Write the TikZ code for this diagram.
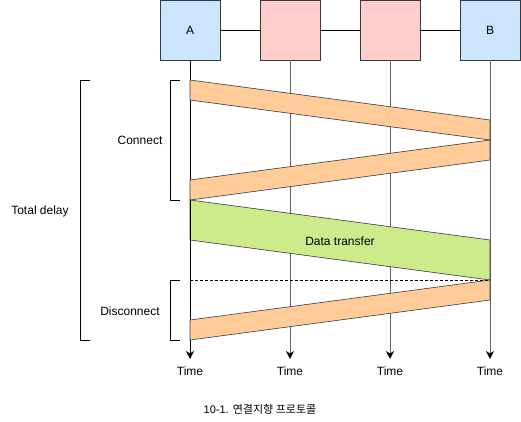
\documentclass[tikz,border=0pt]{standalone}
\usepackage{fontspec}
\setmainfont{Liberation Sans}
\newfontfamily\kofont{Noto Sans CJK KR}
\usetikzlibrary{arrows.meta}
\definecolor{strk}{HTML}{36393D}
\definecolor{bluef}{HTML}{CCE5FF}
\definecolor{redf}{HTML}{FFCCCC}
\definecolor{orangef}{HTML}{FFCC99}
\definecolor{greenf}{HTML}{CDEB8B}
\definecolor{tline}{HTML}{666666}
\tikzset{
  hostbox/.style={draw=strk, line width=0.8pt, minimum width=60pt, minimum height=60pt, inner sep=0pt, font=\fontsize{12}{14}\selectfont},
  endhost/.style={hostbox, fill=bluef},
  midhost/.style={hostbox, fill=redf},
  link/.style={draw=black, line width=0.8pt},
  timeline/.style={draw=tline, line width=1pt, -{Stealth[length=8pt,width=8pt,inset=2.5pt,color=black]}},
  timelineA/.style={timeline, draw=black},
  band/.style={draw=strk, line width=0.6pt},
  conband/.style={band, fill=orangef},
  databand/.style={band, fill=greenf},
  bracket/.style={draw=black, line width=0.8pt},
  lbl/.style={font=\fontsize{12}{14}\selectfont, inner sep=0pt},
}
\begin{document}
\begin{tikzpicture}[x=1pt,y=-1pt]
\useasboundingbox (0,0) rectangle (521,422);
% hosts
\node[endhost] (A) at (190,30) {A};
\node[midhost] (R1) at (290,30) {};
\node[midhost] (R2) at (390,30) {};
\node[endhost] (B) at (490,30) {B};
\draw[link] (A) -- (R1);
\draw[link] (R1) -- (R2);
\draw[link] (R2) -- (B);
% time axes
\coordinate (tA) at (190,359);
\coordinate (t1) at (290,359);
\coordinate (t2) at (390,359);
\coordinate (tB) at (490,359);
\draw[timelineA] (A.south) -- (tA);
\draw[timeline] (R1.south) -- (t1);
\draw[timeline] (R2.south) -- (t2);
\draw[timeline] (B.south) -- (tB);
\node[lbl] (timeA) at (190,371) {Time};
\node[lbl] (time1) at (290,371) {Time};
\node[lbl] (time2) at (390,371) {Time};
\node[lbl] (timeB) at (490,371) {Time};
% bands
\draw[conband] (190,80) -- (490,120) -- (490,140) -- (190,100) -- cycle;
\draw[conband] (190,180) -- (490,140) -- (490,160) -- (190,200) -- cycle;
\draw[databand] (190,200) -- (490,240) -- (490,280) -- (190,240) -- cycle;
\draw[conband] (190,320) -- (490,280) -- (490,300) -- (190,340) -- cycle;
\draw[draw=black, line width=0.6pt, dash pattern=on 3pt off 2pt] (190,280) -- (490,280);
\draw[draw=black, line width=0.8pt] (190,200) -- (190,240);
% brackets
\draw[bracket] (180,80) -- (170,80) -- (170,200) -- (180,200);
\draw[bracket] (180,280) -- (170,280) -- (170,340) -- (180,340);
\draw[bracket] (90,80) -- (80,80) -- (80,340) -- (90,340);
% labels
\node[lbl] (con) at (140,140) {Connect};
\node[lbl] (dis) at (130,311) {Disconnect};
\node[lbl] (tot) at (40,211) {Total delay};
\node[lbl] (dat) at (340,241) {Data transfer};
\node[font=\fontsize{11}{13}\selectfont, inner sep=0pt] (cap) at (260,409) {10-1. {\kofont 연결지향 프로토콜}};
\end{tikzpicture}
\end{document}
